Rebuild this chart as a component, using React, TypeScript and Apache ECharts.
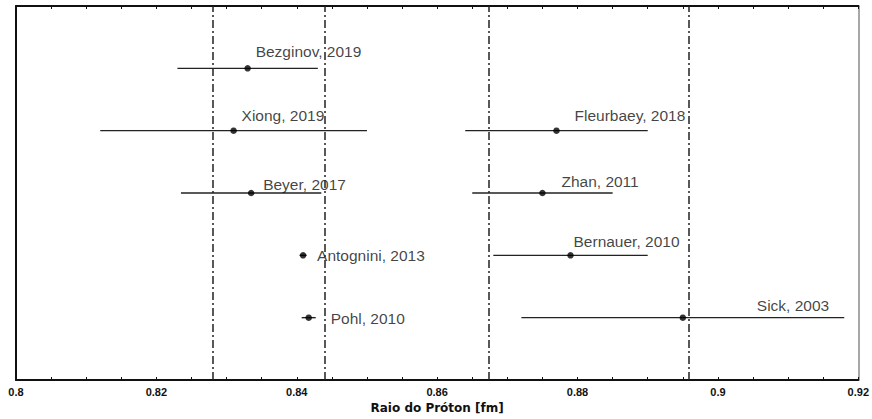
import React, { useEffect, useRef } from "react";
import * as echarts from "echarts";

const studyLabels = [
  "Bezginov, 2019",
  "Xiong, 2019",
  "Fleurbaey, 2018",
  "Beyer, 2017",
  "Zhan, 2011",
  "Antognini, 2013",
  "Bernauer, 2010",
  "Pohl, 2010",
  "Sick, 2003",
];
const protonRadius = [0.833, 0.831, 0.877, 0.8335, 0.875, 0.8409, 0.879, 0.8417, 0.895];
const radiusUncertainty = [0.01, 0.019, 0.013, 0.01, 0.01, 0.0005, 0.011, 0.001, 0.023];
const studyRow = [5, 4, 4, 3, 3, 2, 2, 1, 1];
const referenceLines = [0.828, 0.844, 0.8673, 0.8958];
const tickLabels = [0.8, 0.82, 0.84, 0.86, 0.88, 0.9, 0.92];

// label placement relative to each point (pixels)
const labelOffsets: [number, number][] = [
  [8, -17],
  [8, -15],
  [18, -15],
  [12, -9],
  [19, -12],
  [14, 0],
  [3, -14],
  [22, 1],
  [74, -12],
];

export default function App() {
  const ref = useRef<HTMLDivElement>(null);
  useEffect(() => {
    if (!ref.current) return;
    const chart = echarts.init(ref.current, undefined, { renderer: "svg" });
    const isLabelTick = (v: number) => tickLabels.some((t) => Math.abs(t - v) < 1e-7);
    const fmt = (v: number) => (isLabelTick(v) ? String(parseFloat(v.toFixed(3))) : "");
    const option: any = {
      animation: false,
      backgroundColor: "#ffffff",
      grid: { left: 16, right: 10, top: 6, bottom: 39, containLabel: false },
      xAxis: [
        {
          type: "value",
          min: 0.8,
          max: 0.92,
          interval: 0.005,
          position: "bottom",
          name: "Raio do Próton [fm]",
          nameLocation: "middle",
          nameGap: 21,
          nameTextStyle: {
            fontFamily: "DejaVu Sans",
            fontWeight: "bold",
            fontSize: 12,
            color: "#111",
          },
          axisLine: { show: true, onZero: false, lineStyle: { color: "#111", width: 2 } },
          axisTick: { show: true, inside: true, length: 3, lineStyle: { color: "#111", width: 1 } },
          axisLabel: {
            show: true,
            formatter: fmt,
            margin: 6,
            fontFamily: "Liberation Sans",
            fontWeight: "bold",
            fontSize: 11,
            color: "#111",
            showMinLabel: true,
            showMaxLabel: true,
            hideOverlap: false,
          },
          splitLine: { show: false },
        },
        {
          type: "value",
          min: 0.8,
          max: 0.92,
          interval: 0.005,
          position: "top",
          axisLine: { show: true, onZero: false, lineStyle: { color: "#111", width: 2 } },
          axisTick: { show: true, inside: true, length: 3, lineStyle: { color: "#111", width: 1 } },
          axisLabel: { show: false },
          splitLine: { show: false },
        },
      ],
      yAxis: [
        {
          type: "value",
          min: 0,
          max: 6,
          position: "left",
          axisLine: { show: true, onZero: false, lineStyle: { color: "#111", width: 2 } },
          axisTick: { show: false },
          axisLabel: { show: false },
          splitLine: { show: false },
        },
        {
          type: "value",
          min: 0,
          max: 6,
          position: "right",
          axisLine: { show: true, onZero: false, lineStyle: { color: "#8a8a8a", width: 1.5 } },
          axisTick: { show: false },
          axisLabel: { show: false },
          splitLine: { show: false },
        },
      ],
      series: [
        {
          type: "custom",
          xAxisIndex: 0,
          yAxisIndex: 0,
          silent: true,
          encode: { x: [0, 1], y: 2 },
          data: protonRadius.map((r, i) => [r - radiusUncertainty[i], r + radiusUncertainty[i], studyRow[i]]),
          renderItem: (params: any, api: any) => {
            const y = api.value(2);
            const lo = api.coord([api.value(0), y]);
            const hi = api.coord([api.value(1), y]);
            return {
              type: "line",
              shape: { x1: lo[0], y1: lo[1], x2: hi[0], y2: hi[1] },
              style: { stroke: "#222", lineWidth: 1.4 },
            };
          },
          z: 2,
        },
        {
          type: "scatter",
          xAxisIndex: 0,
          yAxisIndex: 0,
          symbol: "circle",
          symbolSize: 6.5,
          itemStyle: { color: "#000" },
          silent: true,
          z: 3,
          data: protonRadius.map((r, i) => ({
            value: [r, studyRow[i]],
            label: { offset: labelOffsets[i] },
          })),
          label: {
            show: true,
            position: "inside",
            align: "left",
            verticalAlign: "middle",
            fontFamily: "Liberation Sans",
            fontSize: 15.5,
            color: "#111",
            formatter: (p: any) => studyLabels[p.dataIndex],
          },
          markLine: {
            silent: true,
            precision: 5,
            symbol: ["none", "none"],
            label: { show: false },
            lineStyle: { type: [8, 3, 2, 3], color: "#222", width: 1.5 },
            emphasis: { disabled: true },
            data: referenceLines.map((v) => ({ xAxis: v })),
          },
        },
      ],
    };
    chart.setOption(option);
    return () => chart.dispose();
  }, []);
  return (
    <div
      ref={ref}
      style={{ position: "fixed", left: 0, top: 0, width: 872, height: 419, background: "#fff" }}
    />
  );
}
